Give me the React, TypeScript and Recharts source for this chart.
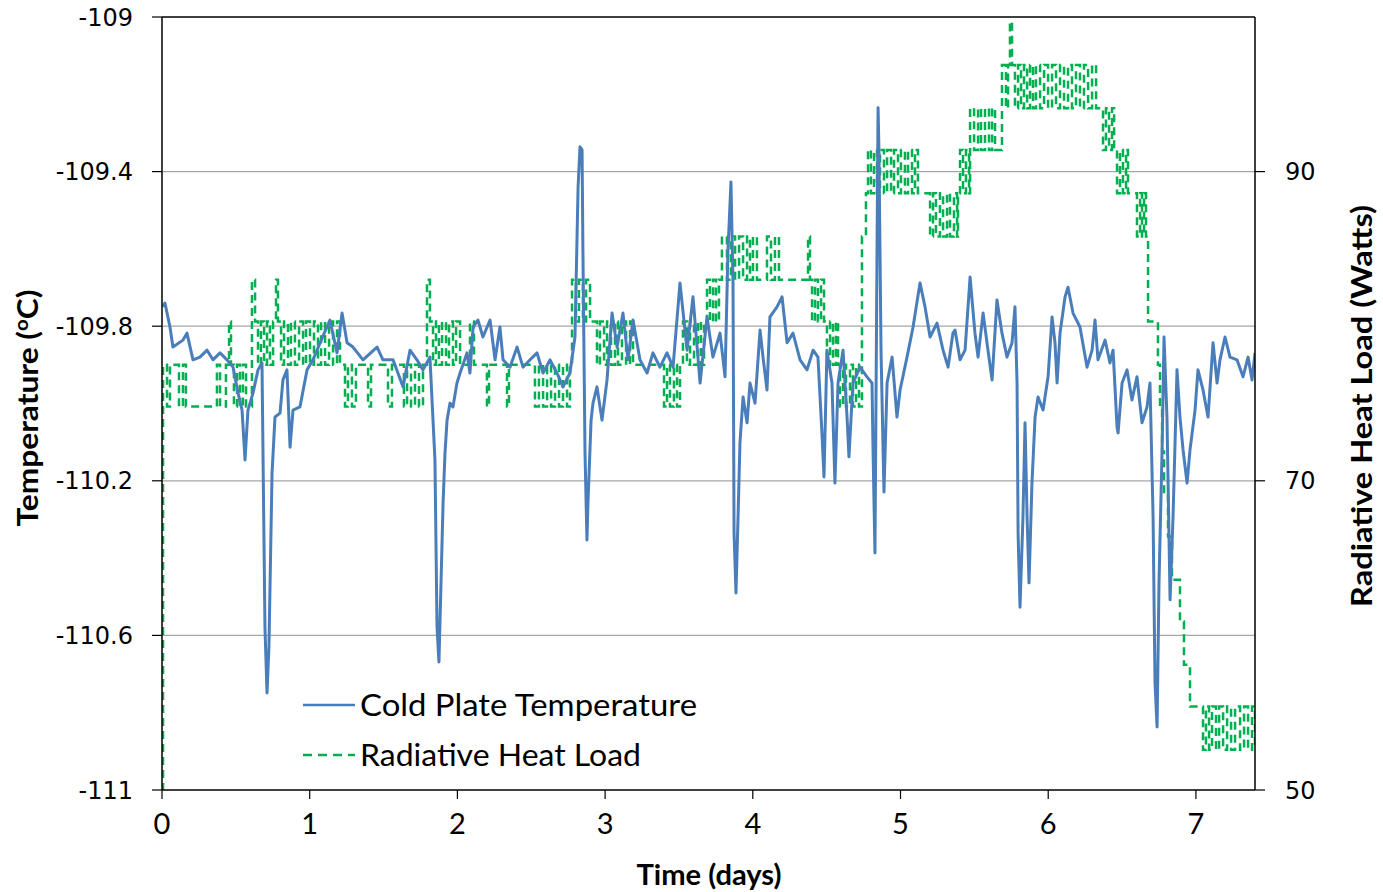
import React from "react";
import {
  CartesianGrid,
  Legend,
  Line,
  LineChart,
  ReferenceLine,
  XAxis,
  YAxis,
} from "recharts";

// cold plate temperature (days, deg C)
const tempDays = [
  0.007, 0.02, 0.054, 0.074, 0.142, 0.169, 0.21, 0.257, 0.305, 0.345, 0.393, 0.44, 0.481, 0.515, 0.542,
  0.562, 0.582, 0.616, 0.65, 0.677, 0.697, 0.711, 0.724, 0.745, 0.765, 0.799, 0.819, 0.846, 0.867, 0.887,
  0.934, 0.982, 1.022, 1.07, 1.137, 1.185, 1.219, 1.253, 1.293, 1.361, 1.456, 1.496, 1.564, 1.632, 1.679,
  1.726, 1.767, 1.814, 1.848, 1.862, 1.875, 1.903, 1.916, 1.93, 1.95, 1.97, 1.997, 2.018, 2.065, 2.085,
  2.106, 2.139, 2.173, 2.221, 2.255, 2.288, 2.309, 2.356, 2.404, 2.444, 2.492, 2.539, 2.58, 2.627, 2.674,
  2.715, 2.762, 2.796, 2.817, 2.83, 2.844, 2.85, 2.864, 2.877, 2.884, 2.905, 2.918, 2.945, 2.979, 3.013,
  3.047, 3.081, 3.121, 3.155, 3.189, 3.236, 3.284, 3.324, 3.371, 3.419, 3.46, 3.507, 3.555, 3.595, 3.643,
  3.69, 3.73, 3.778, 3.812, 3.832, 3.852, 3.866, 3.873, 3.886, 3.9, 3.913, 3.934, 3.961, 3.981, 4.015,
  4.049, 4.069, 4.096, 4.116, 4.164, 4.198, 4.232, 4.272, 4.32, 4.367, 4.408, 4.441, 4.468, 4.482, 4.502,
  4.536, 4.556, 4.577, 4.611, 4.638, 4.651, 4.678, 4.726, 4.773, 4.807, 4.814, 4.827, 4.841, 4.848, 4.854,
  4.868, 4.888, 4.909, 4.943, 4.976, 4.997, 5.044, 5.085, 5.132, 5.166, 5.2, 5.247, 5.288, 5.322, 5.355,
  5.369, 5.403, 5.437, 5.471, 5.504, 5.525, 5.559, 5.592, 5.62, 5.653, 5.687, 5.721, 5.755, 5.775, 5.789,
  5.796, 5.809, 5.829, 5.843, 5.857, 5.87, 5.89, 5.911, 5.931, 5.965, 5.999, 6.026, 6.046, 6.06, 6.08,
  6.114, 6.134, 6.168, 6.215, 6.263, 6.297, 6.317, 6.337, 6.385, 6.418, 6.439, 6.466, 6.473, 6.5, 6.534,
  6.567, 6.601, 6.635, 6.669, 6.689, 6.71, 6.723, 6.737, 6.75, 6.771, 6.784, 6.804, 6.825, 6.845, 6.872,
  6.892, 6.913, 6.94, 6.96, 6.994, 7.014, 7.048, 7.082, 7.116, 7.143, 7.163, 7.197, 7.231, 7.278, 7.319,
  7.353, 7.38, 7.4,
];
const tempValues = [
  -109.75, -109.74, -109.802, -109.854, -109.836, -109.818, -109.887, -109.88, -109.862, -109.887, -109.869, -109.887, -109.906, -109.973, -110.017,
  -110.146, -110.017, -109.973, -109.913, -109.895, -110.578, -110.749, -110.63, -110.18, -110.035, -110.025, -109.939, -109.913, -110.113, -110.017,
  -110.009, -109.913, -109.887, -109.843, -109.784, -109.869, -109.766, -109.843, -109.854, -109.887, -109.854, -109.887, -109.887, -109.957, -109.862,
  -109.887, -109.913, -109.88, -110.146, -110.578, -110.669, -110.257, -110.128, -110.043, -109.999, -110.009, -109.947, -109.921, -109.869, -109.921,
  -109.802, -109.784, -109.828, -109.784, -109.887, -109.802, -109.887, -109.906, -109.854, -109.906, -109.887, -109.869, -109.921, -109.887, -109.921,
  -109.957, -109.921, -109.828, -109.44, -109.336, -109.344, -109.611, -110.128, -110.353, -110.257, -110.043, -109.999, -109.957, -110.043, -109.939,
  -109.766, -109.854, -109.766, -109.887, -109.784, -109.887, -109.921, -109.869, -109.906, -109.869, -109.906, -109.688, -109.862, -109.724, -109.947,
  -109.776, -109.88, -109.818, -109.931, -109.603, -109.427, -109.688, -110.335, -110.49, -110.294, -110.102, -109.983, -110.05, -109.947, -109.999,
  -109.81, -109.88, -109.965, -109.776, -109.75, -109.724, -109.843, -109.818, -109.887, -109.913, -109.862, -109.88, -110.076, -110.19, -109.862,
  -109.947, -110.206, -109.947, -109.862, -110.035, -110.138, -109.947, -109.906, -109.931, -109.947, -110.12, -110.387, -109.603, -109.235, -109.344,
  -109.862, -110.229, -109.947, -109.88, -110.035, -109.965, -109.88, -109.802, -109.688, -109.75, -109.828, -109.792, -109.862, -109.906, -109.818,
  -109.81, -109.887, -109.862, -109.673, -109.818, -109.88, -109.766, -109.862, -109.939, -109.732, -109.818, -109.88, -109.843, -109.75, -109.947,
  -110.335, -110.527, -110.294, -110.05, -110.294, -110.464, -110.206, -110.035, -109.983, -110.017, -109.931, -109.776, -109.843, -109.947, -109.818,
  -109.724, -109.699, -109.766, -109.802, -109.906, -109.862, -109.784, -109.887, -109.836, -109.895, -109.862, -110.061, -110.076, -109.947, -109.913,
  -109.991, -109.931, -110.05, -110.009, -109.947, -110.294, -110.723, -110.837, -110.464, -110.12, -109.828, -110.035, -110.508, -110.294, -109.913,
  -110.035, -110.12, -110.206, -110.12, -110.017, -109.913, -109.965, -110.035, -109.843, -109.947, -109.887, -109.828, -109.88, -109.887, -109.931,
  -109.88, -109.939, -109.869,
];

// radiative heat load steps (days, W)
const loadDays = [
  0, 0.007, 0.034, 0.054, 0.115, 0.142, 0.162, 0.372, 0.393, 0.433, 0.454, 0.467, 0.487, 0.508, 0.528,
  0.548, 0.569, 0.609, 0.63, 0.65, 0.67, 0.691, 0.711, 0.731, 0.752, 0.772, 0.785, 0.806, 0.826, 0.853,
  0.873, 0.9, 0.928, 0.955, 0.975, 1.002, 1.029, 1.056, 1.077, 1.104, 1.131, 1.158, 1.185, 1.205, 1.239,
  1.259, 1.286, 1.313, 1.395, 1.415, 1.53, 1.557, 1.638, 1.659, 1.686, 1.713, 1.74, 1.767, 1.794, 1.814,
  1.835, 1.855, 1.875, 1.896, 1.923, 1.943, 1.97, 1.991, 2.018, 2.085, 2.112, 2.2, 2.214, 2.336, 2.349,
  2.525, 2.552, 2.58, 2.607, 2.634, 2.661, 2.688, 2.715, 2.742, 2.762, 2.776, 2.803, 2.823, 2.85, 2.871,
  2.898, 2.945, 2.965, 2.993, 3.013, 3.04, 3.067, 3.087, 3.114, 3.142, 3.169, 3.189, 3.399, 3.419, 3.439,
  3.466, 3.487, 3.507, 3.527, 3.554, 3.575, 3.602, 3.629, 3.649, 3.67, 3.69, 3.71, 3.731, 3.751, 3.771,
  3.791, 3.825, 3.852, 3.88, 3.907, 3.934, 3.961, 3.981, 4.001, 4.028, 4.096, 4.123, 4.15, 4.177, 4.374,
  4.387, 4.401, 4.421, 4.441, 4.462, 4.482, 4.502, 4.523, 4.543, 4.563, 4.577, 4.59, 4.611, 4.631, 4.658,
  4.678, 4.699, 4.719, 4.739, 4.766, 4.78, 4.8, 4.821, 4.841, 4.861, 4.888, 4.909, 4.936, 4.956, 4.983,
  5.003, 5.03, 5.051, 5.078, 5.098, 5.118, 5.2, 5.22, 5.24, 5.267, 5.288, 5.315, 5.335, 5.362, 5.383,
  5.389, 5.403, 5.423, 5.443, 5.464, 5.471, 5.498, 5.525, 5.545, 5.572, 5.599, 5.62, 5.64, 5.687, 5.714,
  5.728, 5.741, 5.755, 5.775, 5.796, 5.816, 5.836, 5.857, 5.877, 5.897, 5.917, 5.945, 5.972, 5.999, 6.026,
  6.053, 6.08, 6.107, 6.134, 6.161, 6.188, 6.215, 6.242, 6.27, 6.297, 6.324, 6.371, 6.391, 6.412, 6.432,
  6.446, 6.466, 6.486, 6.506, 6.527, 6.54, 6.601, 6.622, 6.635, 6.649, 6.662, 6.676, 6.743, 6.757, 6.771,
  6.784, 6.811, 6.838, 6.892, 6.919, 6.96, 7.048, 7.068, 7.089, 7.109, 7.136, 7.157, 7.184, 7.211, 7.238,
  7.265, 7.299, 7.326, 7.353, 7.38, 7.4,
];
const loadValues = [
  50, 77.5, 74.8, 77.5, 74.8, 77.5, 74.8, 77.5, 74.8, 77.5, 80.3, 77.5, 74.8, 77.5, 74.8,
  77.5, 74.8, 83.0, 80.3, 77.5, 80.3, 77.5, 80.3, 77.5, 80.3, 83.0, 80.3, 77.5, 80.3, 77.5,
  80.3, 77.5, 80.3, 77.5, 80.3, 77.5, 80.3, 77.5, 80.3, 77.5, 80.3, 77.5, 80.3, 77.5, 74.8,
  77.5, 74.8, 77.5, 74.8, 77.5, 74.8, 77.5, 74.8, 77.5, 74.8, 77.5, 74.8, 77.5, 83.0, 80.3,
  77.5, 80.3, 77.5, 80.3, 77.5, 80.3, 77.5, 80.3, 77.5, 80.3, 77.5, 74.8, 77.5, 74.8, 77.5,
  74.8, 77.5, 74.8, 77.5, 74.8, 77.5, 74.8, 77.5, 74.8, 77.5, 83.0, 80.3, 83.0, 80.3, 83.0,
  80.3, 77.5, 80.3, 77.5, 80.3, 77.5, 80.3, 77.5, 80.3, 77.5, 80.3, 77.5, 74.8, 77.5, 74.8,
  77.5, 74.8, 77.5, 80.3, 77.5, 80.3, 77.5, 80.3, 77.5, 80.3, 83.0, 80.3, 83.0, 80.3, 83.0,
  85.8, 83.0, 85.8, 83.0, 85.8, 83.0, 85.8, 83.0, 85.8, 83.0, 85.8, 83.0, 85.8, 83.0, 85.8,
  83.0, 80.3, 83.0, 80.3, 83.0, 80.3, 77.5, 80.3, 77.5, 80.3, 77.5, 74.8, 77.5, 74.8, 77.5,
  74.8, 77.5, 74.8, 85.8, 88.6, 91.4, 88.6, 91.4, 88.6, 91.4, 88.6, 91.4, 88.6, 91.4, 88.6,
  91.4, 88.6, 91.4, 88.6, 91.4, 88.6, 85.8, 88.6, 85.8, 88.6, 85.8, 88.6, 85.8, 88.6, 85.8,
  88.6, 91.4, 88.6, 91.4, 88.6, 94.1, 91.4, 94.1, 91.4, 94.1, 91.4, 94.1, 91.4, 96.9, 94.1,
  96.9, 99.7, 96.9, 94.1, 96.9, 94.1, 96.9, 94.1, 96.9, 94.1, 96.9, 94.1, 96.9, 94.1, 96.9,
  94.1, 96.9, 94.1, 96.9, 94.1, 96.9, 94.1, 96.9, 94.1, 96.9, 94.1, 91.4, 94.1, 91.4, 94.1,
  91.4, 88.6, 91.4, 88.6, 91.4, 88.6, 85.8, 88.6, 85.8, 88.6, 85.8, 80.3, 77.5, 74.8, 71.9,
  69.2, 66.4, 63.6, 60.9, 58.1, 55.4, 52.6, 55.4, 52.6, 55.4, 52.6, 55.4, 52.6, 55.4, 52.6,
  55.4, 52.6, 55.4, 52.6, 55.4, 52.6,
];

const dayTicks = [0, 1, 2, 3, 4, 5, 6, 7];
const tempTicks = [-111, -110.6, -110.2, -109.8, -109.4, -109];
const loadTicks = [50, 70, 90];
const gridTemps = [-110.6, -110.2, -109.8, -109.4];

const tempSeries = tempDays.map((t, i) => ({ t, v: tempValues[i] }));
const loadSeries = loadDays.map((t, i) => ({ t, v: loadValues[i] }));

const BLUE = "#4a7ebb";
const GREEN = "#00b050";
const titleFont = "Lato, 'Open Sans', sans-serif";
const tickStyle = { fill: "#000", fontSize: 24, fontFamily: "'DejaVu Sans', Verdana, sans-serif" };

function LegendBox() {
  return (
    <svg width={420} height={100} style={{ display: "block" }}>
      <line x1={3} x2={55} y1={22} y2={22} stroke={BLUE} strokeWidth={2.5} />
      <text x={60} y={33} fontSize={30} fontFamily={titleFont} textLength={337} lengthAdjust="spacingAndGlyphs">
        Cold Plate Temperature
      </text>
      <line x1={3} x2={55} y1={72} y2={72} stroke={GREEN} strokeWidth={2.5} strokeDasharray="9 6" />
      <text x={60} y={83} fontSize={30} fontFamily={titleFont} textLength={281} lengthAdjust="spacingAndGlyphs">
        Radiative Heat Load
      </text>
    </svg>
  );
}

export default function App() {
  return (
    <div style={{ position: "absolute", left: 0, top: 0, width: 1383, height: 892, background: "#fff" }}>
      <LineChart width={1383} height={892} margin={{ top: 17, right: 0, bottom: 0, left: 0 }}>
        <CartesianGrid
          xAxisId="x"
          yAxisId="temp"
          vertical={false}
          horizontalValues={gridTemps}
          stroke="#a6a6a6"
          strokeWidth={1.2}
        />
        <XAxis
          xAxisId="x"
          dataKey="t"
          type="number"
          domain={[0, 7.4]}
          ticks={dayTicks}
          allowDataOverflow
          height={102}
          axisLine={{ stroke: "#000", strokeWidth: 1.5 }}
          tickLine={{ stroke: "#000", strokeWidth: 1.2 }}
          tickSize={9}
          tickMargin={14}
          tick={{ fill: "#000", fontSize: 29, fontFamily: titleFont }}
        />
        <YAxis
          yAxisId="temp"
          type="number"
          domain={[-111, -109]}
          ticks={tempTicks}
          allowDataOverflow
          width={162}
          axisLine={{ stroke: "#000", strokeWidth: 1.5 }}
          tickLine={{ stroke: "#000", strokeWidth: 1.2 }}
          tickSize={10}
          tickMargin={19}
          tick={tickStyle}
        />
        <YAxis
          yAxisId="load"
          orientation="right"
          type="number"
          domain={[50, 100]}
          ticks={loadTicks}
          allowDataOverflow
          width={128}
          axisLine={{ stroke: "#000", strokeWidth: 1.5 }}
          tickLine={{ stroke: "#000", strokeWidth: 1.2 }}
          tickSize={10}
          tickMargin={20}
          tick={tickStyle}
        />
        <ReferenceLine xAxisId="x" yAxisId="temp" y={-109} stroke="#000" strokeWidth={1.5} />
        <Line
          xAxisId="x"
          yAxisId="load"
          data={loadSeries}
          dataKey="v"
          name="Radiative Heat Load"
          type="stepAfter"
          stroke={GREEN}
          strokeWidth={2.5}
          strokeDasharray="8 5"
          dot={false}
          isAnimationActive={false}
        />
        <Line
          xAxisId="x"
          yAxisId="temp"
          data={tempSeries}
          dataKey="v"
          name="Cold Plate Temperature"
          type="linear"
          stroke={BLUE}
          strokeWidth={3}
          strokeLinejoin="round"
          dot={false}
          isAnimationActive={false}
        />
        <Legend
          layout="horizontal"
          verticalAlign="middle"
          align="center"
          content={() => <LegendBox />}
          wrapperStyle={{ left: 300, top: 683, width: 420, height: 100 }}
        />
      </LineChart>
      <svg
        width={1383}
        height={892}
        style={{ position: "absolute", left: 0, top: 0, pointerEvents: "none" }}
      >
        <text
          transform="translate(38 408) rotate(-90)"
          textAnchor="middle"
          fontSize={28}
          fontWeight="bold"
          fontFamily={titleFont}
          textLength={237}
          lengthAdjust="spacingAndGlyphs"
        >
          Temperature (<tspan fontSize={18} dy={-10}>o</tspan>
          <tspan dy={10}>C)</tspan>
        </text>
        <text
          transform="translate(1372 406) rotate(-90)"
          textAnchor="middle"
          fontSize={28}
          fontWeight="bold"
          fontFamily={titleFont}
          textLength={402}
          lengthAdjust="spacingAndGlyphs"
        >
          Radiative Heat Load (Watts)
        </text>
        <text
          x={709}
          y={885}
          textAnchor="middle"
          fontSize={28}
          fontWeight="bold"
          fontFamily={titleFont}
          textLength={145}
          lengthAdjust="spacingAndGlyphs"
        >
          Time (days)
        </text>
      </svg>
    </div>
  );
}
